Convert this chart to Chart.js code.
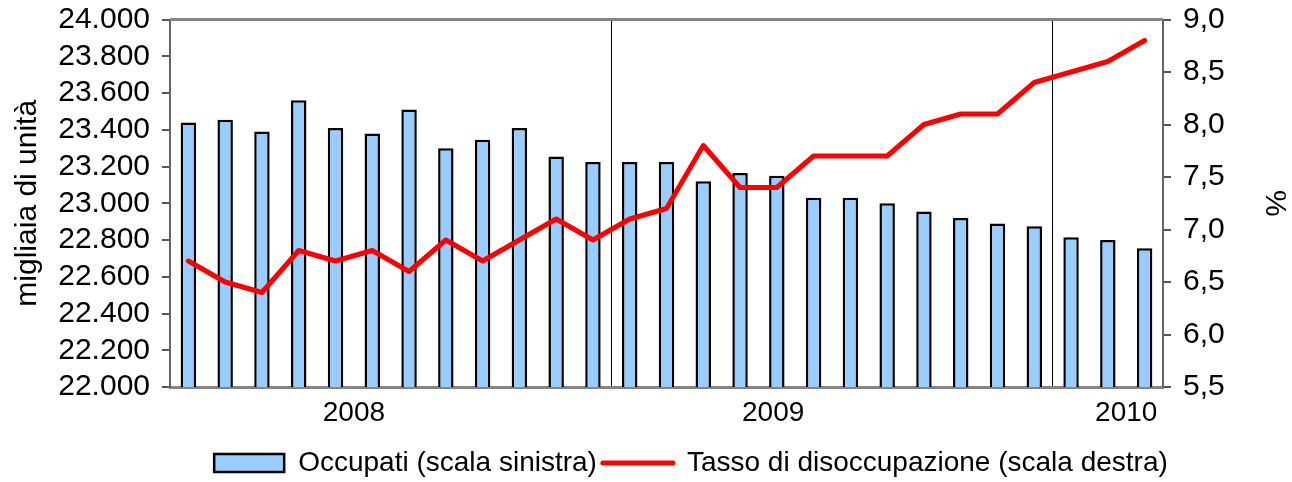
<!DOCTYPE html>
<html>
<head>
<meta charset="utf-8">
<script src="https://cdn.jsdelivr.net/npm/chart.js@4/dist/chart.umd.min.js"></script>
<style>
    html, body { margin: 0; padding: 0; background: #fff; }
    #wrap { width: 1292px; height: 482px; }
</style>
</head>
<body>
<div id="wrap"><canvas id="chartOccupati"></canvas></div>
<script>
var mesi = ['gen 08', 'feb 08', 'mar 08', 'apr 08', 'mag 08', 'giu 08', 'lug 08', 'ago 08', 'set 08', 'ott 08', 'nov 08', 'dic 08',
    'gen 09', 'feb 09', 'mar 09', 'apr 09', 'mag 09', 'giu 09', 'lug 09', 'ago 09', 'set 09', 'ott 09', 'nov 09', 'dic 09',
    'gen 10', 'feb 10', 'mar 10'];
var occupati = [23440, 23455, 23390, 23560, 23410, 23380, 23510, 23300, 23345, 23410, 23255, 23225,
    23225, 23225, 23120, 23165, 23150, 23030, 23030, 23000, 22955, 22920, 22890, 22875,
    22815, 22800, 22755];
var disoccupazione = [6.7, 6.5, 6.4, 6.8, 6.7, 6.8, 6.6, 6.9, 6.7, 6.9, 7.1, 6.9,
    7.1, 7.2, 7.8, 7.4, 7.4, 7.7, 7.7, 7.7, 8.0, 8.1, 8.1, 8.4,
    8.5, 8.6, 8.8];
var anni = ['2008', '2009', '2010'];
var posAnni = [4.5, 15.9, 25.5];   // posizione (indice di categoria) delle etichette anno
var separatori = [12, 24];         // inizio 2009 e 2010

Chart.defaults.font.family = '"Liberation Sans", Arial, sans-serif';
Chart.defaults.color = '#000';

var cornice = {
    id: 'cornice',
    afterLayout: function (chart) {
        // legenda spostata come nell'originale
        chart.legend.left += 90;
        chart.legend.top += 5;
        chart.legend.bottom += 5;
    },
    afterDraw: function (chart) {
        var ctx = chart.ctx, area = chart.chartArea, x = chart.scales.x;
        ctx.save();
        ctx.strokeStyle = '#858585';
        ctx.lineWidth = 3;
        ctx.beginPath();
        ctx.moveTo(area.left, area.top);
        ctx.lineTo(area.right, area.top);
        ctx.stroke();
        ctx.fillStyle = '#000';
        ctx.font = '28px "Liberation Sans", Arial, sans-serif';
        ctx.textAlign = 'center';
        ctx.textBaseline = 'middle';
        anni.forEach(function (a, i) {
            ctx.fillText(a, x.getPixelForValue(posAnni[i]), area.bottom + 26);
        });
        ctx.restore();
    }
};

new Chart(document.getElementById('chartOccupati').getContext('2d'), {
    type: 'bar',
    data: {
        labels: mesi,
        datasets: [
            {
                label: 'Occupati (scala sinistra)',
                data: occupati,
                yAxisID: 'y',
                backgroundColor: '#99CCFF',
                borderColor: '#000',
                borderWidth: 2.5,
                borderSkipped: false,
                barPercentage: 0.42,
                categoryPercentage: 1,
                order: 1,
            },
            {
                type: 'line',
                label: 'Tasso di disoccupazione (scala destra)',
                data: disoccupazione,
                yAxisID: 'y1',
                borderColor: '#FF0000',
                backgroundColor: '#FF0000',
                borderWidth: 5,
                borderJoinStyle: 'round',
                borderCapStyle: 'round',
                pointRadius: 0,
                tension: 0,
                order: 0,
            },
        ],
    },
    options: {
        responsive: true,
        maintainAspectRatio: false,
        animation: false,
        layout: { padding: { top: 0, left: 0, right: 0, bottom: 0 } },
        plugins: {
            tooltip: { enabled: false },
            legend: {
                position: 'bottom',
                labels: {
                    font: { size: 28 },
                    color: '#000',
                    usePointStyle: true,
                    pointStyleWidth: 70,
                    boxHeight: 18,
                    padding: 6,
                    generateLabels: function (chart) {
                        return chart.data.datasets.map(function (ds, i) {
                            var barra = ds.type !== 'line';
                            return {
                                text: ds.label,
                                fillStyle: barra ? ds.backgroundColor : ds.borderColor,
                                strokeStyle: barra ? '#000' : ds.borderColor,
                                lineWidth: barra ? 2.5 : 5,
                                lineCap: 'round',
                                pointStyle: barra ? 'rect' : 'line',
                                fontColor: '#000',
                                hidden: false,
                                datasetIndex: i,
                            };
                        });
                    },
                },
            },
        },
        scales: {
            x: {
                offset: true,
                ticks: { display: false },
                grid: {
                    offset: true,
                    drawTicks: false,
                    lineWidth: 1,
                    color: function (c) { return separatori.indexOf(c.index) >= 0 ? '#000' : 'rgba(0,0,0,0)'; },
                },
                border: { color: '#858585', width: 3 },
                afterFit: function (s) { s.height = 51; },
            },
            y: {
                position: 'left',
                min: 22000,
                max: 24000,
                ticks: {
                    stepSize: 200,
                    autoSkip: false,
                    padding: 12,
                    font: { size: 30, lineHeight: 0.5 },
                    color: '#000',
                    callback: function (v) { return String(v).replace(/\B(?=(\d{3})+(?!\d))/g, '.'); },
                },
                grid: { drawOnChartArea: false, tickLength: 8, color: '#555', lineWidth: 2 },
                border: { color: '#666', width: 2 },
                title: { display: true, text: 'migliaia di unità', font: { size: 30 }, color: '#000', padding: { top: 10, bottom: 0 } },
                afterFit: function (s) { s.width = 170; },
            },
            y1: {
                position: 'right',
                min: 5.5,
                max: 9,
                ticks: {
                    stepSize: 0.5,
                    autoSkip: false,
                    padding: 12,
                    font: { size: 30, lineHeight: 0.5 },
                    color: '#000',
                    callback: function (v) { return v.toFixed(1).replace('.', ','); },
                },
                grid: { drawOnChartArea: false, tickLength: 8, color: '#555', lineWidth: 2 },
                border: { color: '#666', width: 2 },
                title: { display: true, text: '%', font: { size: 30 }, color: '#000', padding: { top: 0, bottom: 0 } },
                afterFit: function (s) { s.width = 129; },
            },
        },
    },
    plugins: [cornice],
});
</script>
</body>
</html>
